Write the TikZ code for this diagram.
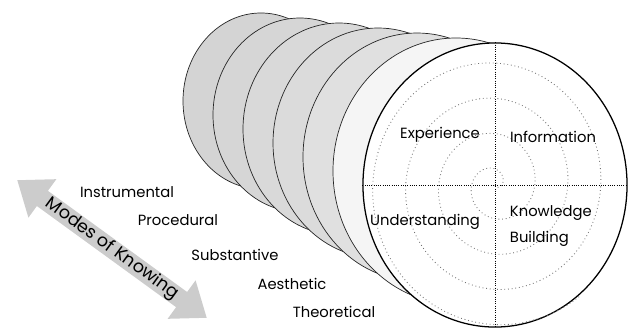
\documentclass[tikz,border=0pt]{standalone}
\usepackage{fontspec}
\setmainfont{Poppins}
\usetikzlibrary{shapes.geometric, shapes.arrows}

\begin{document}
\begin{tikzpicture}[
  x=0.025cm, y=-0.025cm,
  font=\fontsize{10.5}{12}\selectfont,
  disk/.style={
    draw=black!85,
    line width=0.5pt
  },
  frontdisk/.style={
    ellipse,
    draw=black,
    fill=white,
    line width=0.9pt,
    minimum width=6.6cm,
    minimum height=7.1cm,
    inner sep=0pt
  },
  axisline/.style={
    densely dotted,
    line width=0.6pt
  },
  spiralline/.style={
    dotted,
    draw=black!55,
    line width=0.6pt
  },
  mode/.style={
    anchor=center
  },
  quadrant/.style={
    anchor=center
  },
  modesarrow/.style={
    double arrow,
    fill=black!20,
    font=\fontsize{12.5}{13}\selectfont,
    double arrow head extend=0.36cm,
    double arrow tip angle=75,
    minimum height=5.85cm,
    minimum width=0.62cm,
    inner sep=0pt
  }
]

\useasboundingbox (0,0) rectangle (630,329);

% Back disks
\draw[disk, fill=black!17] (261,101) ellipse [x radius=78, y radius=88];
\draw[disk, fill=black!16] (300,115) ellipse [x radius=87, y radius=97];
\draw[disk, fill=black!15] (339,129) ellipse [x radius=96, y radius=106];
\draw[disk, fill=black!14] (378,143) ellipse [x radius=105, y radius=115];
\draw[disk, fill=black!12] (417,157) ellipse [x radius=114, y radius=124];
\draw[disk, fill=black!4] (456,171) ellipse [x radius=123, y radius=133];

% Front disk
\node[frontdisk] (front) at (495,185) {};

% Spiral and quadrants
\draw[spiralline, shift={(front.center)}]
  plot[domain=-74:1390, samples=400, variable=\t]
  ({(\t+74)/360*33*cos(\t)}, {-(\t+74)/360*35.3*sin(\t)});
\draw[axisline] (front.west) -- (front.east);
\draw[axisline] (front.north) -- (front.south);

\node[quadrant] (exp) at (440,135) {Experience};
\node[quadrant] (inf) at (553,137) {Information};
\node[quadrant] (und) at (425,222) {Understanding};
\node[
  align=left,
  anchor=west,
  font=\fontsize{10.5}{19}\selectfont
] (know) at (505,226) {Knowledge\\Building};

% Modes of knowing
\node[mode] (instr) at (127,192) {Instrumental};
\node[mode] (proc) at (178,220) {Procedural};
\node[mode] (subst) at (235,255) {Substantive};
\node[mode] (aesth) at (292,284) {Aesthetic};
\node[mode] (theor) at (334,312) {Theoretical};

% Arrow
\node[modesarrow, rotate=-36] (modes) at (112,249) {Modes of Knowing};

\end{tikzpicture}
\end{document}
